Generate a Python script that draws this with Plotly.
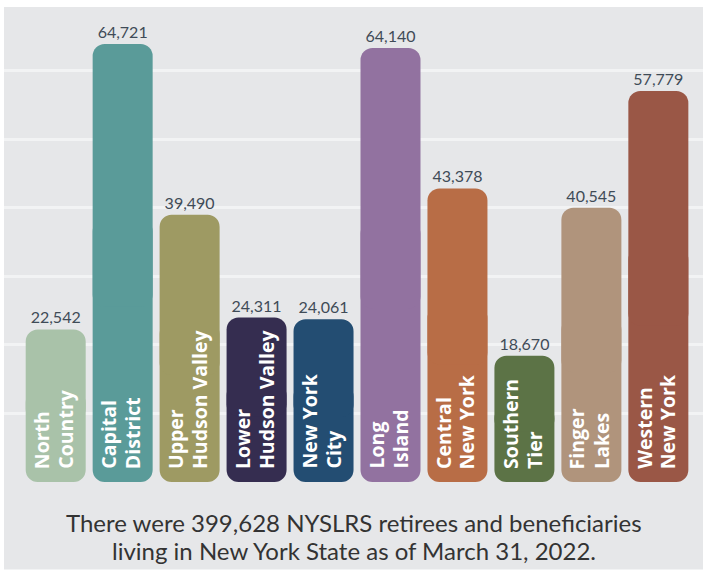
import plotly.graph_objects as go

# ---- data ----
regions = ["North Country", "Capital District", "Upper Hudson Valley", "Lower Hudson Valley",
           "New York City", "Long Island", "Central New York", "Southern Tier",
           "Finger Lakes", "Western New York"]
label_line1 = ["North", "Capital", "Upper", "Lower", "New York",
               "Long", "Central", "Southern", "Finger", "Western"]
label_line2 = ["Country", "District", "Hudson Valley", "Hudson Valley", "City",
               "Island", "New York", "Tier", "Lakes", "New York"]
retirees = [22542, 64721, 39490, 24311, 24061, 64140, 43378, 18670, 40545, 57779]
colors = ["#a9c2a9", "#5a9b99", "#9e9a63", "#352d50", "#234d72",
          "#9272a0", "#b86d46", "#5c7346", "#b0947c", "#9a5746"]
caption_lines = ["There were 399,628 NYSLRS retirees and beneficiaries",
                 "living in New York State as of March 31, 2022."]

value_text = [f"{v:,}" for v in retirees]

fig = go.Figure()

# bottom part (rounded bottom corners)
fig.add_trace(go.Bar(
    x=regions, y=[-0.6 * v for v in retirees], base=[0.6 * v for v in retirees],
    marker=dict(color=colors, cornerradius=12, line=dict(width=0), opacity=1),
    opacity=1, hoverinfo="skip", showlegend=False,
))
# top part (rounded top corners) with value labels
fig.add_trace(go.Bar(
    x=regions, y=[0.6 * v for v in retirees], base=[0.4 * v for v in retirees],
    marker=dict(color=colors, cornerradius=12, line=dict(width=0), opacity=1),
    opacity=1,
    text=value_text, textposition="outside", constraintext="none",
    outsidetextfont=dict(family="Lato", size=16, color="#3f4b57"),
    cliponaxis=False, hoverinfo="skip", showlegend=False,
))

annotations = []
label_font = dict(family="Open Sans", size=19.5, color="white", weight="bold")
for r, l1, l2 in zip(regions, label_line1, label_line2):
    for txt, xs in ((l1, -14.5), (l2, 9.5)):
        annotations.append(dict(
            x=r, y=0, xref="x", yref="y", text=txt, textangle=-90,
            xanchor="center", yanchor="bottom", yshift=11, xshift=xs,
            showarrow=False, font=label_font,
        ))
for i, line in enumerate(caption_lines):
    annotations.append(dict(
        x=0.5, y=0, xref="paper", yref="paper", text=line,
        xanchor="center", yanchor="middle", yshift=-40 - 28 * i, showarrow=False,
        align="center", font=dict(family="Lato", size=24, color="#333333"),
    ))

fig.update_layout(
    width=706, height=573,
    margin=dict(l=4, r=3, t=7, b=91, pad=0),
    paper_bgcolor="white",
    plot_bgcolor="rgba(0,0,0,0)",
    barmode="overlay",
    bargap=0.104,
    annotations=annotations,
    shapes=[dict(type="rect", xref="paper", yref="paper", x0=0, x1=1, y0=-0.184, y1=1,
                 fillcolor="#e6e7e9", line=dict(width=0), layer="below")],
    xaxis=dict(type="category", range=[-0.772, 9.667], showticklabels=False,
               showgrid=False, zeroline=False, showline=False, ticks=""),
    yaxis=dict(range=[0, 70200], tick0=0, dtick=10130, showticklabels=False,
               showgrid=True, gridcolor="#f2f3f4", gridwidth=2.5,
               zeroline=False, showline=False, ticks=""),
)

fig.write_html("out.html", config={"displayModeBar": False},
               post_script="document.body.style.margin='0';document.body.style.overflow='hidden';")
